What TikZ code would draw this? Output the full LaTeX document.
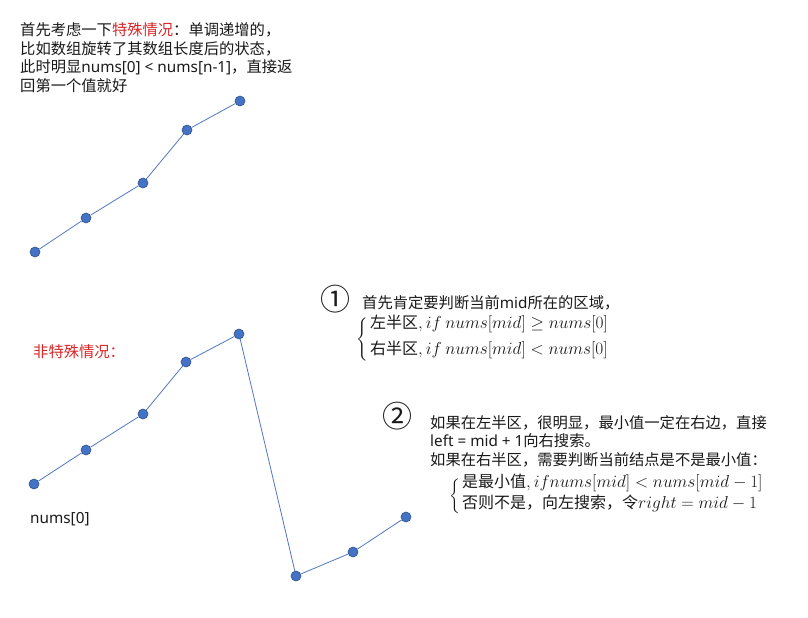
\documentclass[tikz,border=0pt]{standalone}
\usepackage{amsmath}
\usepackage{fontspec}
\setmainfont{Noto Sans CJK SC}
\newfontfamily\lat{Noto Sans}
\definecolor{txt}{RGB}{25,25,25}
\definecolor{redtxt}{RGB}{215,40,40}
\definecolor{dotfill}{RGB}{68,114,196}
\definecolor{dotline}{RGB}{47,82,143}
\definecolor{edgec}{RGB}{80,120,190}
\begin{document}
\begin{tikzpicture}[x=1pt,y=-1pt,
  dot/.style={circle,fill=dotfill,draw=dotline,line width=0.6pt,minimum size=10pt,inner sep=0pt},
  seg/.style={draw=edgec,line width=0.8pt},
  lbl/.style={anchor=base west,inner sep=0pt,text=txt,font=\fontsize{15.3}{20}\selectfont},
  redlbl/.style={lbl,text=redtxt},
  mathlbl/.style={lbl,font=\fontsize{16}{20}\selectfont},
  bigno/.style={anchor=center,inner sep=0pt,text=txt,font=\fontsize{30}{30}\selectfont},
  bracebox/.style={anchor=east,inner sep=0pt,text=txt,font=\fontsize{15}{20}\selectfont}]
\useasboundingbox (0,0) rectangle (808,618);
\fill[white] (0,0) rectangle (808,618);

% top text
\node[lbl] (t1) at (20,36) {首先考虑一下\textcolor{redtxt}{特殊情况}：单调递增的，};
\node[lbl] (t2) at (20,54.5) {比如数组旋转了其数组长度后的状态，};
\node[lbl] (t3) at (20,73) {此时明显{\lat nums[0] < nums[n-1]}，直接返};
\node[lbl] (t4) at (20,91.5) {回第一个值就好};

% top chain
\node[dot] (a1) at (35,252) {};
\node[dot] (a2) at (86,218) {};
\node[dot] (a3) at (143,183) {};
\node[dot] (a4) at (187,130) {};
\node[dot] (a5) at (240,101) {};
\draw[seg] (a1) -- (a2) -- (a3) -- (a4) -- (a5);

% bottom chain
\node[redlbl] (ns) at (33,357) {非特殊情况：};
\node[lbl] (n0) at (30,523) {\lat nums[0]};
\node[dot] (b1) at (34,484) {};
\node[dot] (b2) at (86,450) {};
\node[dot] (b3) at (143,414) {};
\node[dot] (b4) at (186,362) {};
\node[dot] (b5) at (239,334) {};
\node[dot] (b6) at (296,576) {};
\node[dot] (b7) at (353,552) {};
\node[dot] (b8) at (406,517) {};
\draw[seg] (b1) -- (b2) -- (b3) -- (b4) -- (b5) -- (b6) -- (b7) -- (b8);

% note 1
\node[bigno] (c1) at (335,299) {①};
\node[lbl] (m1) at (362,308) {首先肯定要判断当前{\lat mid}所在的区域，};
\node[bracebox] (br1) at (369,339.5) {$\left\{\vcenter{\hbox{\rule{0pt}{40pt}}}\right.$};
\node[mathlbl] (k1a) at (370,328) {左半区$,if\ nums[mid] \ge nums[0]$};
\node[mathlbl] (k1b) at (370,354) {右半区$,if\ nums[mid] < nums[0]$};

% note 2
\node[bigno] (c2) at (397.5,416.5) {②};
\node[lbl] (p1) at (430,428) {如果在左半区，很明显，最小值一定在右边，直接};
\node[lbl] (p2) at (430,446.5) {{\lat left = mid + 1}向右搜索。};
\node[lbl] (p3) at (430,465) {如果在右半区，需要判断当前结点是不是最小值：};
\node[bracebox] (br2) at (462,496) {$\left\{\vcenter{\hbox{\rule{0pt}{36pt}}}\right.$};
\node[mathlbl] (k2a) at (462,487) {是最小值$,if nums[mid] < nums[mid-1]$};
\node[mathlbl] (k2b) at (462,508) {否则不是，向左搜索，令$right = mid-1$};
\end{tikzpicture}
\end{document}
